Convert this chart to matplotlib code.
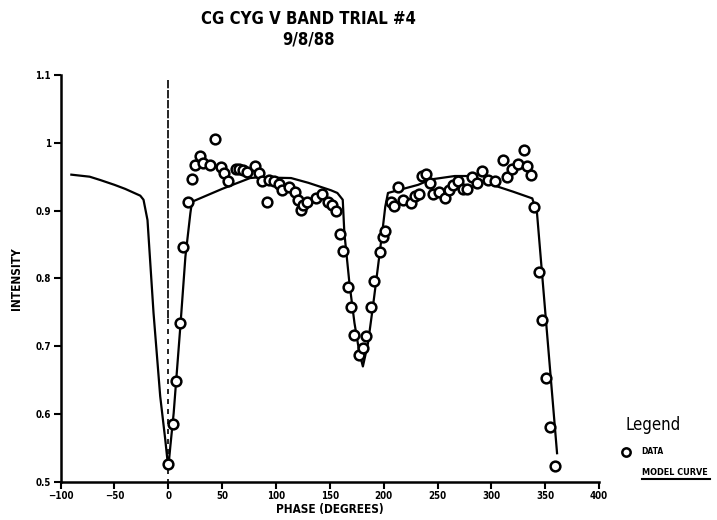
import matplotlib
matplotlib.use("Agg")
import matplotlib.pyplot as plt
from matplotlib.lines import Line2D

plt.rcParams['font.family'] = ['DejaVu Sans']
plt.rcParams['font.stretch'] = 'condensed'

# observed points
phase = [0, 4, 7, 11, 14, 18, 22, 25, 29, 32.5, 39, 43.8, 48.5, 51.6, 55.3,
         62.5, 65.6, 69, 73.4, 80.2, 84.2, 87.4, 91.4, 93.6, 98, 103, 106,
         112, 117.5, 120, 123, 124.7, 129, 137, 143, 148, 152, 155.5, 159.5,
         162.6, 166.7, 169.8, 172.9, 177.5, 180.7, 183.8, 187.8, 190.9, 196.2,
         199.3, 201.5, 207, 209.5, 213, 218, 225, 229, 232.6, 235.7, 239.7,
         242.8, 246, 251, 257, 260.6, 264.6, 269.3, 274, 277, 281.7, 286.4,
         291.7, 297.3, 303.5, 311, 314.4, 319, 324.6, 330, 333, 336.7, 340,
         344, 347, 350.7, 354.8, 358.9]
intensity = [0.526, 0.585, 0.648, 0.734, 0.847, 0.913, 0.947, 0.967, 0.980,
             0.970, 0.967, 1.006, 0.964, 0.955, 0.944, 0.961, 0.962, 0.960,
             0.957, 0.966, 0.955, 0.944, 0.912, 0.945, 0.944, 0.939, 0.930,
             0.935, 0.927, 0.915, 0.901, 0.908, 0.913, 0.918, 0.924, 0.913,
             0.908, 0.899, 0.866, 0.840, 0.787, 0.758, 0.716, 0.687, 0.697,
             0.715, 0.757, 0.796, 0.839, 0.861, 0.870, 0.913, 0.907, 0.935,
             0.915, 0.911, 0.921, 0.925, 0.951, 0.954, 0.940, 0.924, 0.927,
             0.919, 0.930, 0.938, 0.943, 0.932, 0.932, 0.950, 0.940, 0.959,
             0.945, 0.943, 0.974, 0.949, 0.962, 0.968, 0.990, 0.966, 0.952,
             0.906, 0.810, 0.739, 0.653, 0.581, 0.523]

# model curve
model_phase = [-90, -73, -63, -50, -40, -26, -23, -19.3, -13.7, -7.5, -2.8, 0,
               1.9, 5, 11.2, 15.9, 20.5, 22, 50, 76, 83, 114, 130, 151, 157,
               160, 162, 163.5, 168.2, 172.9, 177.5, 180.7, 185.4, 190, 194.7,
               199.3, 201.5, 204, 232, 244, 266, 279, 297, 320, 338, 342.4, 361]
model_int = [0.953, 0.950, 0.945, 0.938, 0.932, 0.922, 0.916, 0.886, 0.749,
             0.626, 0.562, 0.520, 0.552, 0.601, 0.729, 0.832, 0.896, 0.913,
             0.932, 0.948, 0.949, 0.948, 0.941, 0.930, 0.926, 0.920, 0.916,
             0.867, 0.793, 0.734, 0.690, 0.670, 0.704, 0.758, 0.817, 0.876,
             0.906, 0.926, 0.938, 0.946, 0.951, 0.951, 0.940, 0.928, 0.918,
             0.896, 0.542]

xticks = [-100, -50, 0, 50, 100, 150, 200, 250, 300, 350, 400]
yticks = [0.5, 0.6, 0.7, 0.8, 0.9, 1.0, 1.1]
ytick_labels = ['0.5', '0.6', '0.7', '0.8', '0.9', '1', '1.1']

fig = plt.figure(figsize=(7.17, 5.2), dpi=100)
ax = fig.add_axes([0.0845, 0.0737, 0.751, 0.782])

# vertical marker at phase 0
ax.plot([0, 0], [1.093, 0.74], color='black', lw=1.2, dashes=(5, 1))
ax.plot([0, 0], [0.74, 0.5], color='black', lw=1.2, dashes=(3, 3))

ax.plot(model_phase, model_int, color='black', lw=1.6)
ax.plot(phase, intensity, 'o', mfc='white', mec='black', ms=7, mew=1.8)

ax.set_xlim(-100, 400)
ax.set_ylim(0.5, 1.1)
ax.set_xticks(xticks)
ax.set_yticks(yticks)
ax.set_yticklabels(ytick_labels)
for s in ['top', 'right']:
    ax.spines[s].set_visible(False)
ax.spines['left'].set_linewidth(1.8)
ax.spines['bottom'].set_linewidth(1.8)
ax.tick_params(direction='out', length=5, width=1.5, labelsize=7, pad=2)
for lab in ax.get_xticklabels() + ax.get_yticklabels():
    lab.set_fontweight('bold')

ax.set_xlabel('PHASE (DEGREES)', fontsize=8.5, fontweight='bold', labelpad=1)
ax.set_ylabel('INTENSITY', fontsize=8.5, fontweight='bold', labelpad=9)

fig.text(0.43, 0.963, 'CG CYG V BAND TRIAL #4', ha='center', va='center',
         fontsize=12, fontweight='bold')
fig.text(0.43, 0.925, '9/8/88', ha='center', va='center',
         fontsize=12, fontweight='bold')

# legend block
fig.text(0.872, 0.182, 'Legend', ha='left', va='center', fontsize=12)
fig.add_artist(Line2D([0.873], [0.131], marker='o', mfc='white', mec='black',
                      ms=6, mew=1.8, transform=fig.transFigure))
fig.text(0.895, 0.131, 'DATA', ha='left', va='center', fontsize=6,
         fontweight='bold')
fig.text(0.895, 0.092, 'MODEL CURVE', ha='left', va='center', fontsize=6.5,
         fontweight='bold')
fig.add_artist(Line2D([0.895, 0.99], [0.079, 0.079], color='black', lw=1.5,
                      transform=fig.transFigure))

fig.savefig('out.png', dpi=100)
